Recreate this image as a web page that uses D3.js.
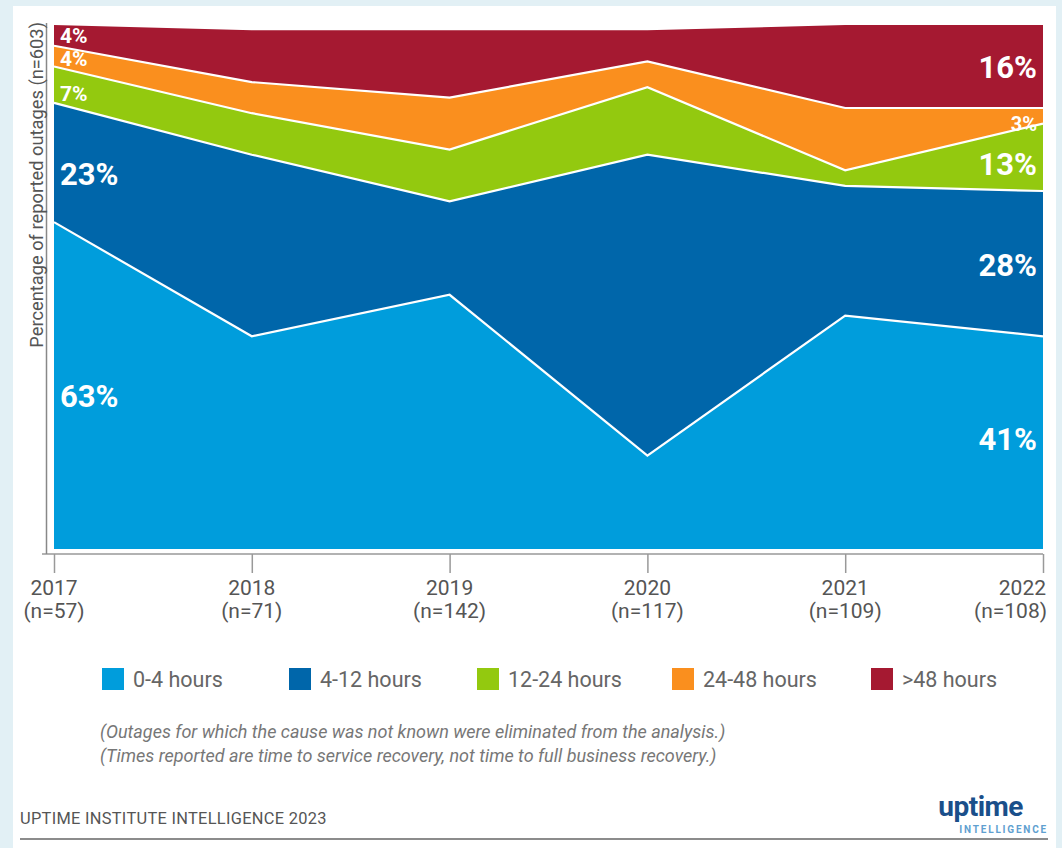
<!DOCTYPE html>
<html>
<head>
<meta charset="utf-8">
<script src="https://cdn.jsdelivr.net/npm/d3@7"></script>
<style>
  html, body { margin: 0; padding: 0; background: #e2f0f5; }
  svg { display: block; font-family: Roboto, "Noto Sans", sans-serif; }
</style>
</head>
<body>
<svg id="chart" width="1062" height="848"></svg>
<script>
// ---- Data ----
const years = ["2017", "2018", "2019", "2020", "2021", "2022"];
const counts = ["(n=57)", "(n=71)", "(n=142)", "(n=117)", "(n=109)", "(n=108)"];
const seriesNames = ["0-4 hours", "4-12 hours", "12-24 hours", "24-48 hours", ">48 hours"];
const h0_4   = [63, 41, 49, 18, 45, 41];
const h4_12  = [23, 35, 18, 58, 25, 28];
const h12_24 = [7, 8, 10, 13, 3, 13];
const h24_48 = [4, 6, 10, 5, 12, 3];
const h48    = [4, 10, 13, 6, 16, 16];
const colors = ["#009ddc", "#0066aa", "#93c90f", "#fa8f1e", "#a51931"];

const table = years.map((y, i) => ({
  year: y,
  "0-4 hours": h0_4[i],
  "4-12 hours": h4_12[i],
  "12-24 hours": h12_24[i],
  "24-48 hours": h24_48[i],
  ">48 hours": h48[i]
}));

const svg = d3.select("#chart");

// white panel
svg.append("rect").attr("x", 13).attr("y", 6).attr("width", 1043).attr("height", 842).attr("fill", "#fff");

const x = d3.scalePoint().domain(years).range([54, 1043]);
const y = d3.scaleLinear().domain([0, 101]).range([549, 25]);

const stack = d3.stack().keys(seriesNames);
const layers = stack(table);

const area = d3.area()
  .x(d => x(d.data.year))
  .y0(d => y(d[0]))
  .y1(d => y(d[1]));

svg.append("g").selectAll("path").data(layers).join("path")
  .attr("d", area)
  .attr("fill", (d, i) => colors[i]);

// white separator lines on top of lower layers
const line = d3.line().x(d => x(d.data.year)).y(d => y(d[1]));
svg.append("g").selectAll("path").data(layers.slice(0, 4)).join("path")
  .attr("d", line)
  .attr("fill", "none")
  .attr("stroke", "#fff")
  .attr("stroke-width", 2.2);

// axes
const axisG = svg.append("g").attr("transform", "translate(0,554)");
const xAxis = d3.axisBottom(x).tickSize(19).tickFormat("");
axisG.call(xAxis);
axisG.select(".domain").remove();
axisG.selectAll(".tick line").attr("stroke", "#999").attr("stroke-width", 1.5);
axisG.append("line").attr("x1", 42).attr("x2", 1043).attr("y1", 0).attr("y2", 0)
  .attr("stroke", "#999").attr("stroke-width", 1.5);

svg.append("line").attr("x1", 46.5).attr("x2", 46.5).attr("y1", 23).attr("y2", 554)
  .attr("stroke", "#888").attr("stroke-width", 1.5);

// tick labels
const tl = svg.append("g").attr("fill", "#555").attr("font-size", 21);
years.forEach((yr, i) => {
  const last = i === years.length - 1;
  const anchor = last ? "end" : "middle";
  tl.append("text").attr("x", last ? x(yr) + 3 : x(yr)).attr("y", 595).attr("text-anchor", anchor).text(yr);
  tl.append("text").attr("x", last ? x(yr) + 4 : x(yr)).attr("y", 618).attr("text-anchor", anchor).text(counts[i]);
});

// y axis title
svg.append("text")
  .attr("transform", "translate(43,22) rotate(-90)")
  .attr("text-anchor", "end")
  .attr("fill", "#555")
  .attr("font-size", 18.3)
  .text("Percentage of reported outages (n=603)");

// value labels
const lab = svg.append("g").attr("fill", "#fff").attr("font-weight", "bold");
const leftLabels = [
  {v: h48[0], size: 21, yy: 43},
  {v: h24_48[0], size: 21, yy: 66},
  {v: h12_24[0], size: 21, yy: 101},
  {v: h4_12[0], size: 31, yy: 185},
  {v: h0_4[0], size: 31, yy: 407}
];
leftLabels.forEach(l => {
  lab.append("text").attr("x", 60).attr("y", l.yy).attr("font-size", l.size).text(l.v + "%");
});
const n = years.length - 1;
const rightLabels = [
  {v: h48[n], size: 31, yy: 78},
  {v: h24_48[n], size: 20, yy: 131},
  {v: h12_24[n], size: 31, yy: 175},
  {v: h4_12[n], size: 31, yy: 276},
  {v: h0_4[n], size: 31, yy: 450}
];
rightLabels.forEach(l => {
  lab.append("text").attr("x", 1037).attr("y", l.yy).attr("text-anchor", "end")
    .attr("font-size", l.size).text(l.v + "%");
});

// legend
const legendX = [102, 289, 477, 672, 871];
const lg = svg.append("g");
seriesNames.forEach((s, i) => {
  lg.append("rect").attr("x", legendX[i]).attr("y", 668).attr("width", 22).attr("height", 22).attr("fill", colors[i]);
  lg.append("text").attr("x", legendX[i] + 31).attr("y", 687).attr("font-size", 21.5).attr("fill", "#666").text(s);
});

// footnotes
const fn = svg.append("g").attr("fill", "#777").attr("font-size", 18).attr("font-style", "italic");
fn.append("text").attr("x", 100).attr("y", 738).text("(Outages for which the cause was not known were eliminated from the analysis.)");
fn.append("text").attr("x", 100).attr("y", 762).text("(Times reported are time to service recovery, not time to full business recovery.)");

// footer
svg.append("text").attr("x", 20).attr("y", 824).attr("font-size", 16.4).attr("fill", "#555")
  .attr("letter-spacing", 0.3).text("UPTIME INSTITUTE INTELLIGENCE 2023");
svg.append("text").attr("x", 1023).attr("y", 816).attr("text-anchor", "end").attr("font-size", 28)
  .attr("font-weight", "bold").attr("fill", "#1a4f8a").attr("letter-spacing", -0.5).text("uptime");
svg.append("text").attr("x", 1048).attr("y", 833).attr("text-anchor", "end").attr("font-size", 10)
  .attr("font-weight", "bold").attr("fill", "#5fa0d0").attr("letter-spacing", 1.8).text("INTELLIGENCE");
svg.append("line").attr("x1", 20).attr("x2", 1048).attr("y1", 839).attr("y2", 839)
  .attr("stroke", "#666").attr("stroke-width", 1.5);
</script>
</body>
</html>
